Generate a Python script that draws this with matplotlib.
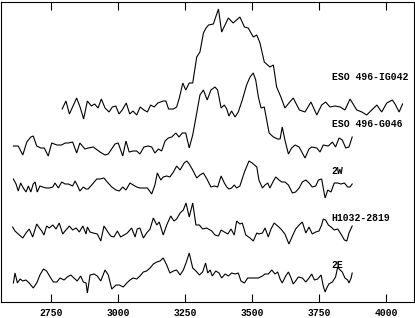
import matplotlib
matplotlib.use("Agg")
import matplotlib.pyplot as plt

# wavelength (Angstrom) and flux (arbitrary, offset) of each spectrum
wl_ig042 = [2792, 2806, 2819, 2846, 2860, 2872, 2886, 2901, 2913, 2926,
            2938, 2952, 2967, 2979, 2992, 3004, 3016, 3031, 3044, 3056,
            3070, 3083, 3097, 3110, 3122, 3135, 3149, 3169, 3179, 3189,
            3207, 3219, 3229, 3242, 3253, 3266, 3279, 3294, 3306, 3319,
            3329, 3338,
            3356, 3375, 3387, 3412, 3430, 3455, 3472, 3486, 3505, 3518,
            3530, 3546, 3567, 3580, 3592, 3608, 3623, 3638, 3654, 3677,
            3698, 3720, 3742, 3760, 3775, 3791, 3810, 3829, 3847, 3866,
            3891, 3910, 3928, 3947, 3966, 3984, 4003, 4024, 4036, 4049,
            4062]
fl_ig042 = [193, 201, 188, 204, 194, 183, 201, 196, 198, 194,
            203, 194, 190, 195, 196, 188, 192, 199, 188, 191,
            187, 195, 192, 190, 197, 195, 199, 201, 201, 193,
            193, 195, 204, 219, 212, 219, 219, 245, 250, 269,
            274, 277,
            278, 293, 270, 284, 279, 285, 275, 274, 265, 267,
            259, 240, 235, 237, 215, 205, 194, 199, 204, 192,
            190, 200, 187, 197, 200, 195, 196, 195, 192, 203,
            192, 190, 187, 192, 197, 190, 199, 202, 197, 190,
            198]

wl_g046 = [2610, 2628, 2645, 2660, 2675, 2684, 2697, 2712, 2725, 2740,
           2753, 2772, 2790, 2803, 2815, 2831, 2846, 2858, 2877, 2889,
           2908, 2933, 2952, 2964, 2989, 3001, 3018, 3030, 3042, 3057,
           3070, 3082, 3097, 3113, 3126, 3138, 3151, 3163, 3176, 3188,
           3201, 3216, 3228, 3240, 3253, 3266, 3279, 3294, 3306, 3319,
           3333,
           3347, 3362, 3372, 3385, 3397, 3406, 3414, 3424, 3437, 3449,
           3464, 3480, 3493, 3505, 3514, 3524, 3534, 3546, 3555, 3564,
           3580, 3596, 3605, 3613, 3623, 3636, 3648, 3661, 3676, 3688,
           3698, 3713, 3723, 3742, 3754, 3766, 3785, 3800, 3812, 3825,
           3837, 3850, 3862, 3874]
fl_g046 = [156, 156, 147, 160, 165, 166, 156, 154, 154, 146,
           159, 157, 157, 159, 159, 160, 149, 159, 153, 154,
           155, 150, 147, 148, 158, 159, 146, 161, 150, 151,
           151, 148, 155, 156, 155, 149, 153, 151, 161, 164,
           165, 169, 165, 169, 169, 154, 167, 189, 207, 212,
           202,
           212, 215, 212, 194, 197, 193, 186, 191, 185, 190,
           202, 217, 225, 229, 222, 205, 194, 195, 182, 169,
           165, 163, 163, 175, 162, 148, 154, 157, 155, 149,
           144, 153, 155, 154, 150, 157, 156, 160, 155, 164,
           162, 154, 155, 165]

wl_2w = [2610, 2620, 2628, 2637, 2647, 2657, 2666, 2675, 2684, 2691,
         2699, 2709, 2719, 2732, 2744, 2757, 2765, 2778, 2790, 2803,
         2815, 2831, 2840, 2848, 2858, 2871, 2881, 2889, 2902, 2921,
         2933, 2948, 2960, 2977, 2993, 3005, 3018, 3030, 3045, 3057,
         3070, 3082, 3097, 3110, 3126, 3138, 3147, 3160, 3169, 3182,
         3194, 3207, 3219, 3232, 3247, 3257, 3266, 3279, 3294, 3306,
         3319, 3332,
         3347, 3360, 3372, 3385, 3397, 3406, 3414, 3424, 3434, 3443,
         3455, 3472, 3489, 3501, 3518, 3526, 3539, 3549, 3559, 3567,
         3580, 3589, 3601, 3611, 3623, 3636, 3651, 3663, 3676, 3688,
         3701, 3713, 3725, 3738, 3748, 3760, 3766, 3773, 3783, 3795,
         3807, 3820, 3832, 3845, 3857, 3866, 3874]
fl_2w = [123, 118, 111, 119, 114, 110, 116, 110, 118, 120,
         110, 116, 115, 114, 114, 115, 119, 114, 120, 118,
         118, 116, 121, 117, 111, 115, 113, 113, 117, 123,
         123, 124, 120, 115, 112, 111, 115, 112, 119, 117,
         115, 114, 114, 114, 108, 117, 129, 122, 125, 126,
         125, 130, 136, 132, 139, 141, 138, 132, 124, 127,
         129, 123,
         115, 116, 115, 126, 119, 115, 113, 114, 117, 114,
         116, 130, 141, 139, 135, 122, 114, 117, 119, 114,
         121, 125, 122, 120, 120, 117, 109, 110, 114, 120,
         122, 119, 115, 116, 122, 123, 114, 104, 112, 110,
         119, 119, 118, 119, 115, 115, 118]

wl_h1032 = [2607, 2616, 2628, 2645, 2657, 2669, 2682, 2697, 2707, 2716,
            2724, 2734, 2744, 2757, 2769, 2781, 2794, 2806, 2819, 2831,
            2844, 2856, 2869, 2881, 2886, 2896, 2908, 2923, 2936, 2948,
            2960, 2973, 2985, 2998, 3010, 3023, 3035, 3051, 3064, 3072,
            3082, 3095, 3107, 3120, 3132, 3145, 3154, 3169, 3182, 3197,
            3209, 3219, 3232, 3244, 3254, 3266, 3279, 3291, 3304, 3316,
            3331,
            3350, 3362, 3375, 3385, 3397, 3410, 3422, 3434, 3443, 3455,
            3464, 3477, 3493, 3505, 3518, 3526, 3539, 3549, 3561, 3571,
            3583, 3596, 3608, 3623, 3638, 3651, 3663, 3676, 3688, 3701,
            3713, 3725, 3738, 3750, 3760, 3766, 3775, 3785, 3795, 3807,
            3820, 3832, 3845, 3854, 3862, 3874]
fl_h1032 = [75, 71, 68, 64, 69, 73, 65, 78, 74, 71,
            67, 76, 74, 77, 73, 79, 68, 72, 76, 72,
            74, 70, 76, 68, 75, 70, 69, 68, 61, 76,
            71, 66, 65, 71, 65, 67, 69, 74, 65, 73,
            74, 64, 69, 73, 84, 77, 80, 67, 77, 86,
            81, 83, 89, 92, 99, 85, 99, 77, 77, 73,
            74,
            71, 67, 66, 72, 70, 68, 73, 67, 81, 78,
            79, 67, 64, 61, 69, 68, 69, 74, 65, 73,
            79, 76, 73, 68, 58, 66, 73, 77, 80, 69,
            75, 68, 70, 71, 77, 83, 82, 77, 75, 72,
            73, 68, 62, 61, 69, 76]

wl_2e = [2610, 2616, 2625, 2635, 2645, 2657, 2669, 2684, 2697, 2709,
         2722, 2734, 2747, 2759, 2772, 2784, 2799, 2811, 2824, 2836,
         2848, 2861, 2871, 2881, 2886, 2896, 2911, 2923, 2936, 2952,
         2964, 2977, 2993, 3005, 3020, 3033, 3045, 3057, 3070, 3082,
         3095, 3107, 3120, 3132, 3145, 3157, 3169, 3182, 3194, 3207,
         3219, 3232, 3244, 3254, 3266, 3279, 3291, 3304, 3316,
         3327, 3335,
         3344, 3352, 3365, 3377, 3387, 3400, 3412, 3424, 3437, 3449,
         3459, 3472, 3484, 3497, 3509, 3524, 3539, 3549, 3561, 3574,
         3586, 3596, 3605, 3613, 3626, 3636, 3646, 3654, 3663, 3673,
         3688, 3701, 3713, 3723, 3733, 3745, 3758, 3766, 3773, 3779,
         3787, 3800, 3812, 3820, 3829, 3837, 3847, 3857, 3862, 3870, 3874]
fl_2e = [19, 29, 19, 23, 21, 22, 19, 14, 19, 27,
         33, 31, 25, 20, 20, 24, 22, 25, 27, 24,
         21, 26, 20, 19, 9, 27, 28, 26, 21, 32,
         27, 13, 17, 17, 15, 19, 22, 24, 23, 26,
         30, 31, 34, 38, 40, 41, 44, 37, 29, 31,
         32, 27, 32, 39, 49, 34, 31, 27, 30,
         39, 29,
         32, 26, 31, 29, 24, 28, 26, 29, 28, 29,
         21, 19, 24, 24, 24, 24, 26, 28, 28, 32,
         28, 30, 23, 19, 26, 30, 24, 18, 21, 25,
         24, 20, 24, 28, 22, 23, 27, 16, 10, 14,
         18, 20, 25, 35, 32, 30, 24, 22, 19, 24, 29]

labels = ["ESO 496-IG042", "ESO 496-G046", "2W", "H1032-2819", "2E"]
label_wl = [3797, 3797, 3797, 3797, 3797]
label_fl = [225, 178, 131, 84, 37]
xticks = [2750, 3000, 3250, 3500, 3750, 4000]

W, H = 415, 318
fig = plt.figure(figsize=(W / 100, H / 100), dpi=100)
ax = fig.add_axes([0.5 / W, 16 / H, 413.5 / W, 300.5 / H])

spectra = [(wl_ig042, fl_ig042), (wl_g046, fl_g046), (wl_2w, fl_2w),
           (wl_h1032, fl_h1032), (wl_2e, fl_2e)]
for wl, fl in spectra:
    ax.plot(wl, fl, color="black", lw=0.8, solid_joinstyle="miter")

font = dict(family="Liberation Mono", weight="bold", size=7)
for txt, x, y in zip(labels, label_wl, label_fl):
    ax.text(x, y, txt, ha="left", va="center", **font)

ax.set_xlim(2561.9, 4104.6)
ax.set_ylim(0, 300.5)
ax.set_xticks(xticks)
ax.set_xticklabels([str(t) for t in xticks], **font)
ax.set_yticks([])
ax.tick_params(axis="x", direction="in", top=True, length=5.5, width=0.8, pad=4.5)
for s in ax.spines.values():
    s.set_linewidth(0.8)

fig.savefig("out.png", dpi=100)
